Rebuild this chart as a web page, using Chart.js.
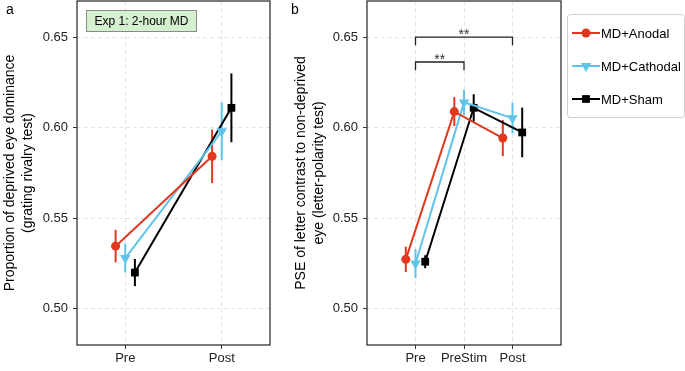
<!DOCTYPE html>
<html>
<head>
<meta charset="utf-8">
<script src="https://cdn.jsdelivr.net/npm/chart.js@4.4.0/dist/chart.umd.min.js"></script>
<style>
  body { margin: 0; background: #fff; font-family: "Liberation Sans", Arial, sans-serif; }
  #wrap { position: relative; width: 685px; height: 371px; overflow: hidden; }
  #chartA { position: absolute; left: 0; top: 0; }
  #chartB { position: absolute; left: 285px; top: 0; }
  .panel { position: absolute; font-size: 14px; color: #000; }
  #exp {
    position: absolute; left: 86px; top: 10px; width: 109px; height: 20px;
    background: #d4f0ce; border: 1px solid #8a8a8a; font-size: 12px;
    line-height: 20px; text-align: center; color: #000;
  }
</style>
</head>
<body>
<div id="wrap">
  <canvas id="chartA" width="285" height="371"></canvas>
  <canvas id="chartB" width="400" height="371"></canvas>
  <div class="panel" style="left:6px;top:1px;">a</div>
  <div class="panel" style="left:291px;top:1px;">b</div>
  <div id="exp">Exp 1: 2-hour MD</div>
</div>
<script>
// ---- data ----
const condsA = ["Pre", "Post"];
const condsB = ["Pre", "PreStim", "Post"];
const yTicks = [0.50, 0.55, 0.60, 0.65];

const seriesNames = ["MD+Anodal", "MD+Cathodal", "MD+Sham"];

// panel a: grating rivalry test
const aAnodal = [0.5346, 0.5842];
const aAnodalErr = [0.009, 0.0148];
const aCathodal = [0.528, 0.598];
const aCathodalErr = [0.008, 0.016];
const aSham = [0.520, 0.611];
const aShamErr = [0.0075, 0.019];

// panel b: letter-polarity test
const bAnodal = [0.5273, 0.6089, 0.5943];
const bAnodalErr = [0.007, 0.008, 0.010];
const bCathodal = [0.525, 0.614, 0.6053];
const bCathodalErr = [0.008, 0.007, 0.0085];
const bSham = [0.526, 0.611, 0.5974];
const bShamErr = [0.0036, 0.0075, 0.0137];

const RED = "#e2371f";
const CYAN = "#5fc3ea";
const BLACK = "#000000";

const styles = [
  { color: RED, pointStyle: "circle", radius: 4.5, rotation: 0 },
  { color: CYAN, pointStyle: "triangle", radius: 6, rotation: 180 },
  { color: BLACK, pointStyle: "rect", radius: 5.5, rotation: 0 }
];

Chart.defaults.font.family = '"Liberation Sans", Arial, sans-serif';
Chart.defaults.color = "#222";

// build one line dataset, x = category position + small dodge
function makeDataset(i, values, errs, dodge) {
  const st = styles[i];
  return {
    label: seriesNames[i],
    data: values.map((v, k) => ({ x: k + 1 + (i - 1) * dodge, y: v })),
    err: errs,
    borderColor: st.color,
    backgroundColor: st.color,
    borderWidth: 2,
    pointStyle: st.pointStyle,
    pointRadius: st.radius,
    pointRotation: st.rotation,
    pointBorderWidth: 0,
    tension: 0
  };
}

// error bars + frame
const errorBarPlugin = {
  id: "errorBars",
  beforeDatasetsDraw(chart) {
    const { ctx, scales } = chart;
    chart.data.datasets.forEach(ds => {
      ctx.save();
      ctx.strokeStyle = ds.borderColor;
      ctx.lineWidth = 2;
      ds.data.forEach((p, k) => {
        const x = scales.x.getPixelForValue(p.x);
        const y1 = scales.y.getPixelForValue(p.y - ds.err[k]);
        const y2 = scales.y.getPixelForValue(p.y + ds.err[k]);
        ctx.beginPath();
        ctx.moveTo(x, y1);
        ctx.lineTo(x, y2);
        ctx.stroke();
      });
      ctx.restore();
    });
  },
  afterDraw(chart) {
    const { ctx, chartArea: a } = chart;
    ctx.save();
    ctx.strokeStyle = "#333";
    ctx.lineWidth = 1.3;
    ctx.strokeRect(a.left, a.top, a.right - a.left, a.bottom - a.top);
    ctx.restore();
  }
};

// significance brackets on panel b
const bracketPlugin = {
  id: "brackets",
  afterDatasetsDraw(chart) {
    const { ctx, scales } = chart;
    const brackets = [
      { from: 1, to: 3, y: 0.650, drop: 0.0045 },
      { from: 1, to: 2, y: 0.6363, drop: 0.0045 }
    ];
    ctx.save();
    ctx.strokeStyle = "#222";
    ctx.fillStyle = "#333";
    ctx.lineWidth = 1.3;
    ctx.font = '14px "Liberation Sans", Arial, sans-serif';
    ctx.textAlign = "center";
    ctx.textBaseline = "alphabetic";
    brackets.forEach(b => {
      const x1 = scales.x.getPixelForValue(b.from);
      const x2 = scales.x.getPixelForValue(b.to);
      const y = scales.y.getPixelForValue(b.y);
      const yd = scales.y.getPixelForValue(b.y - b.drop);
      ctx.beginPath();
      ctx.moveTo(x1, yd);
      ctx.lineTo(x1, y);
      ctx.lineTo(x2, y);
      ctx.lineTo(x2, yd);
      ctx.stroke();
      ctx.fillText("**", (x1 + x2) / 2, y + 2);
    });
    ctx.restore();
  }
};

// boxed legend to the right of panel b
const legendPlugin = {
  id: "boxLegend",
  afterDraw(chart) {
    const { ctx } = chart;
    const bx = 282, by = 14, bw = 117, bh = 103;
    ctx.save();
    ctx.strokeStyle = "#cfcfcf";
    ctx.lineWidth = 1;
    ctx.beginPath();
    ctx.roundRect(bx + 0.5, by + 0.5, bw, bh, 3);
    ctx.stroke();
    ctx.font = '13px "Liberation Sans", Arial, sans-serif';
    ctx.textBaseline = "middle";
    ctx.textAlign = "left";
    chart.data.datasets.forEach((ds, i) => {
      const y = 33 + i * 33;
      ctx.strokeStyle = ds.borderColor;
      ctx.fillStyle = ds.borderColor;
      ctx.lineWidth = 2;
      ctx.beginPath();
      ctx.moveTo(287, y);
      ctx.lineTo(315, y);
      ctx.stroke();
      Chart.helpers.drawPoint(ctx, {
        pointStyle: ds.pointStyle, radius: ds.pointRadius,
        rotation: ds.pointRotation, borderWidth: 0
      }, 301, y);
      ctx.fillStyle = "#000";
      ctx.fillText(ds.label, 316, y + 1);
    });
    ctx.restore();
  }
};

function makeChart(id, conds, datasets, xMin, xMax, yTitle, axisWidth, titlePad, padRight, extraPlugins) {
  return new Chart(document.getElementById(id), {
    type: "line",
    data: { datasets },
    options: {
      responsive: false,
      animation: false,
      layout: { autoPadding: false, padding: { top: 1, right: padRight, left: 0, bottom: 0 } },
      plugins: { legend: { display: false }, tooltip: { enabled: false } },
      scales: {
        x: {
          type: "linear",
          min: xMin,
          max: xMax,
          afterBuildTicks: s => { s.ticks = conds.map((c, k) => ({ value: k + 1 })); },
          ticks: {
            callback: v => conds[v - 1],
            font: { size: 13 },
            color: "#222",
            padding: 2,
            maxRotation: 0
          },
          grid: { color: "#e4e4e4", tickColor: "#333", tickLength: 4, lineWidth: 1 },
          border: { display: false, dash: [4, 3] },
          afterFit: s => { s.height = 26; s.paddingLeft = 0; s.paddingRight = 0; }
        },
        y: {
          min: 0.48,
          max: 0.67,
          afterBuildTicks: s => { s.ticks = yTicks.map(v => ({ value: v })); },
          ticks: {
            callback: v => v.toFixed(2),
            font: { size: 13 },
            color: "#222",
            padding: 5
          },
          grid: { color: "#e4e4e4", tickColor: "#333", tickLength: 4, lineWidth: 1 },
          border: { display: false, dash: [4, 3] },
          title: {
            display: true,
            text: yTitle,
            color: "#000",
            font: { size: 14, lineHeight: 1.3 },
            padding: { top: titlePad, bottom: 0 }
          },
          afterFit: s => { s.width = axisWidth; s.paddingTop = 0; s.paddingBottom = 0; }
        }
      }
    },
    plugins: [errorBarPlugin].concat(extraPlugins)
  });
}

makeChart("chartA", condsA, [
  makeDataset(0, aAnodal, aAnodalErr, 0.1),
  makeDataset(1, aCathodal, aCathodalErr, 0.1),
  makeDataset(2, aSham, aShamErr, 0.1)
], 0.5, 2.5,
["Proportion of deprived eye dominance", "(grating rivalry test)"],
77, 1, 15, []);

makeChart("chartB", condsB, [
  makeDataset(0, bAnodal, bAnodalErr, 0.2),
  makeDataset(1, bCathodal, bCathodalErr, 0.2),
  makeDataset(2, bSham, bShamErr, 0.2)
], 0, 4,
["PSE of letter contrast to non-deprived", "eye (letter-polarity test)"],
82, 7, 124, [bracketPlugin, legendPlugin]);
</script>
</body>
</html>
